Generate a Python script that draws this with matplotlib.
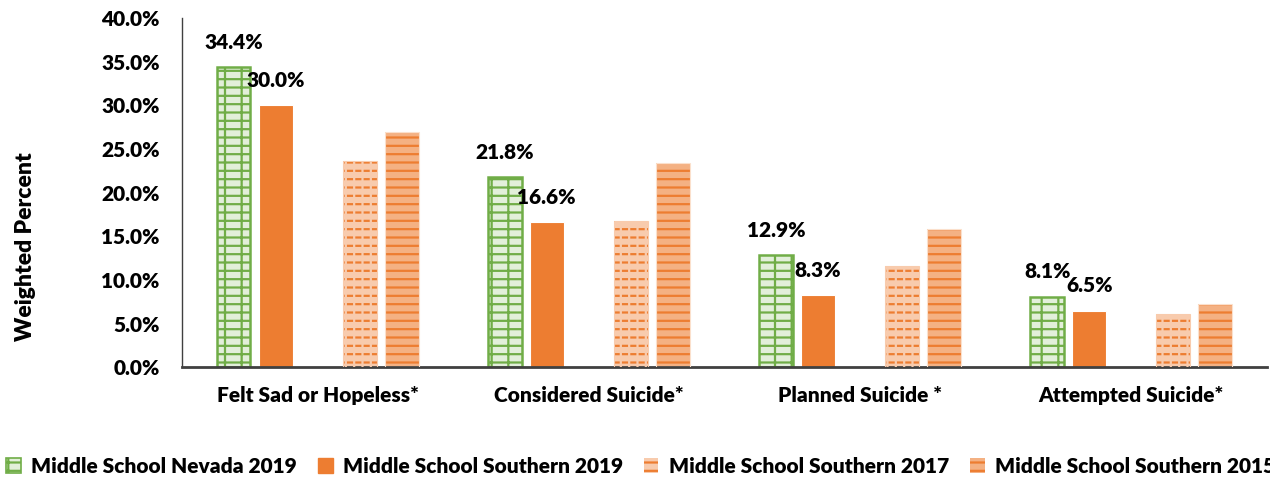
import numpy as np
import matplotlib
matplotlib.use('Agg')
import matplotlib.pyplot as plt
from matplotlib.patches import Patch
from matplotlib.ticker import FuncFormatter

categories = ['Felt Sad or Hopeless*', 'Considered Suicide*', 'Planned Suicide *', 'Attempted Suicide*']
series_names = ['Middle School Nevada 2019', 'Middle School Southern 2019',
                'Middle School Southern 2017', 'Middle School Southern 2015']
nevada_2019 = [34.4, 21.8, 12.9, 8.1]
southern_2019 = [30.0, 16.6, 8.3, 6.5]
southern_2017 = [23.6, 16.8, 11.6, 6.1]
southern_2015 = [26.9, 23.4, 15.8, 7.3]

GREEN = '#70AD47'
GREEN_FILL = '#E2EFDA'
ORANGE = '#ED7D31'
LIGHT_2017 = '#F8CBAD'
LIGHT_2015 = '#F4B183'

FS = 15
WEIGHT = 'heavy'

plt.rcParams['font.family'] = ['Lato', 'DejaVu Sans']
plt.rcParams['font.weight'] = WEIGHT
plt.rcParams['hatch.linewidth'] = 1.6

fig = plt.figure(figsize=(12.7, 4.79), dpi=100)
ax = fig.add_axes([0.1433, 0.2328, 0.8543, 0.7296])

x = np.arange(len(categories))
slot = 0.155
w = 0.125

b1 = ax.bar(x - 2 * slot, nevada_2019, w, facecolor=GREEN_FILL, edgecolor=GREEN,
            linewidth=1.8, hatch='--|', zorder=2)
b2 = ax.bar(x - slot, southern_2019, w, color=ORANGE, edgecolor='white',
            linewidth=0.8, zorder=2)
# 2017: horizontal lines broken into dashes by a face-coloured vertical overlay
b3 = ax.bar(x + slot, southern_2017, w, facecolor=LIGHT_2017, edgecolor=ORANGE,
            linewidth=0, hatch='--', zorder=2)
ax.bar(x + slot, southern_2017, w, facecolor='none', edgecolor=LIGHT_2017,
       linewidth=0.8, hatch='||', zorder=3)
b4 = ax.bar(x + 2 * slot, southern_2015, w, facecolor=LIGHT_2015, edgecolor=ORANGE,
            linewidth=0, hatch='--', zorder=2)
ax.bar(x + 2 * slot, southern_2015, w, facecolor='none', edgecolor='#FBE0CC',
       linewidth=0.8, zorder=3)

for bars, vals in [(b1, nevada_2019), (b2, southern_2019)]:
    for rect, v in zip(bars, vals):
        ax.annotate(f'{v:.1f}%', (rect.get_x() + rect.get_width() / 2, v),
                    xytext=(0, 11), textcoords='offset points',
                    ha='center', va='bottom', fontsize=FS, fontweight=WEIGHT, zorder=5)

ax.set_xlim(-0.5, 3.5)
ax.set_ylim(0, 40)
ax.set_yticks(np.arange(0, 40.1, 5))
ax.yaxis.set_major_formatter(FuncFormatter(lambda v, p: f'{v:.1f}%'))
ax.set_xticks(x)
ax.set_xticklabels(categories)
ax.tick_params(axis='both', length=0, labelsize=FS)
ax.tick_params(axis='x', pad=13)
ax.tick_params(axis='y', pad=16)
for lab in ax.get_xticklabels() + ax.get_yticklabels():
    lab.set_fontweight(WEIGHT)

ax.spines['top'].set_visible(False)
ax.spines['right'].set_visible(False)
ax.spines['left'].set_color('#404040')
ax.spines['left'].set_linewidth(1.0)
ax.spines['bottom'].set_color('#404040')
ax.spines['bottom'].set_linewidth(2.0)

fig.text(0.02, 0.485, 'Weighted Percent', rotation=90, ha='center', va='center',
         fontsize=16.5, fontweight=WEIGHT)

handles = [
    Patch(facecolor=GREEN_FILL, edgecolor=GREEN, hatch='--|', linewidth=1.2),
    Patch(facecolor=ORANGE, edgecolor=ORANGE),
    Patch(facecolor=LIGHT_2017, edgecolor=ORANGE, hatch='--', linewidth=0),
    Patch(facecolor=LIGHT_2015, edgecolor=ORANGE, hatch='--', linewidth=0),
]
fig.legend(handles, series_names, loc='center left', bbox_to_anchor=(0.005, 0.027),
           ncol=4, frameon=False, handlelength=0.7, handleheight=0.7,
           handletextpad=0.5, columnspacing=1.0, borderaxespad=0, borderpad=0,
           prop={'weight': WEIGHT, 'size': FS})

fig.savefig('out.png', dpi=100)
